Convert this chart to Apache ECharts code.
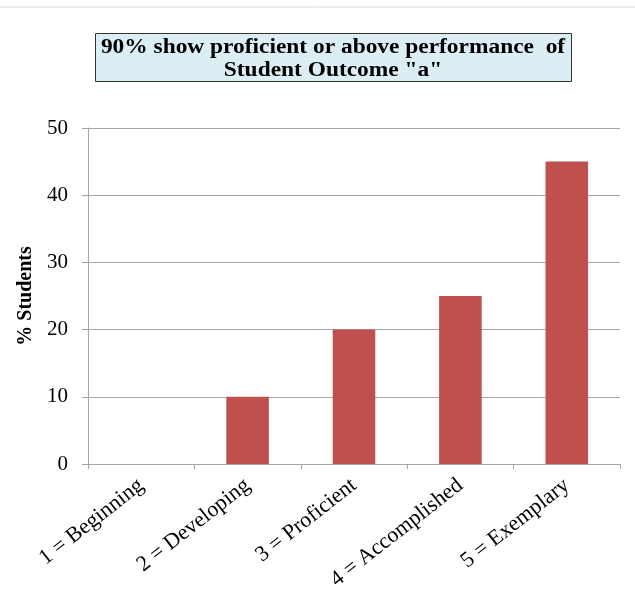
<!DOCTYPE html>
<html>
<head>
<meta charset="utf-8">
<script src="https://cdn.jsdelivr.net/npm/echarts@6/dist/echarts.min.js"></script>
<style>
  html, body { margin: 0; padding: 0; background: #ffffff; }
  #chart { width: 635px; height: 591px; }
</style>
</head>
<body>
<div id="chart"></div>
<script>
// Rubric levels and share of students at each level
const categories = ['1 = Beginning', '2 = Developing', '3 = Proficient', '4 = Accomplished', '5 = Exemplary'];
const percentStudents = [0, 10, 20, 25, 45];
const titleLines = ['90% show proficient or above performance  of', 'Student Outcome "a"'];
const yAxisName = '% Students';

const serif = '"Liberation Serif", "Times New Roman", serif';
const chart = echarts.init(document.getElementById('chart'), null, { renderer: 'canvas' });

chart.setOption({
  animation: false,
  backgroundColor: '#ffffff',
  graphic: [
    {
      type: 'line',
      shape: { x1: 0, y1: 7, x2: 635, y2: 7 },
      style: { stroke: '#d8d8d8', lineWidth: 1 }
    },
    {
      type: 'rect',
      shape: { x: 95.5, y: 33.5, width: 476, height: 48 },
      style: { fill: '#dbeef3', stroke: '#333333', lineWidth: 1 }
    },
    {
      // Title text, widened to fill its box
      type: 'text',
      x: 333,
      y: 59.5,
      scaleX: 1.17,
      style: {
        x: 0, y: 0,
        text: titleLines.join('\n'),
        font: 'bold 20px ' + serif,
        fill: '#000000',
        align: 'center',
        verticalAlign: 'middle',
        lineHeight: 23
      }
    }
  ],
  grid: { left: 88, right: 15, top: 128, bottom: 127, containLabel: false, outerBoundsMode: 'none' },
  xAxis: {
    type: 'category',
    data: categories,
    axisLine: { lineStyle: { color: '#a6a6a6', width: 1 } },
    axisTick: { show: true, length: 5, lineStyle: { color: '#a6a6a6' } },
    axisLabel: {
      interval: 0,
      rotate: 38,
      color: '#000000',
      fontFamily: serif,
      fontSize: 22,
      margin: 19
    }
  },
  yAxis: {
    type: 'value',
    min: 0,
    max: 50,
    interval: 10,
    name: yAxisName,
    nameLocation: 'middle',
    nameGap: 52,
    nameRotate: 90,
    nameTextStyle: { fontFamily: serif, fontSize: 20, fontWeight: 'bold', color: '#000000' },
    axisLine: { show: true, lineStyle: { color: '#a6a6a6', width: 1 } },
    axisTick: { show: true, length: 6, lineStyle: { color: '#a6a6a6' } },
    axisLabel: { color: '#000000', fontFamily: serif, fontSize: 21, margin: 20 },
    splitLine: { show: true, lineStyle: { color: '#a6a6a6', width: 1 } }
  },
  series: [
    {
      type: 'bar',
      data: percentStudents,
      barWidth: '40%',
      itemStyle: { color: '#c0504d' }
    }
  ]
});
</script>
</body>
</html>
